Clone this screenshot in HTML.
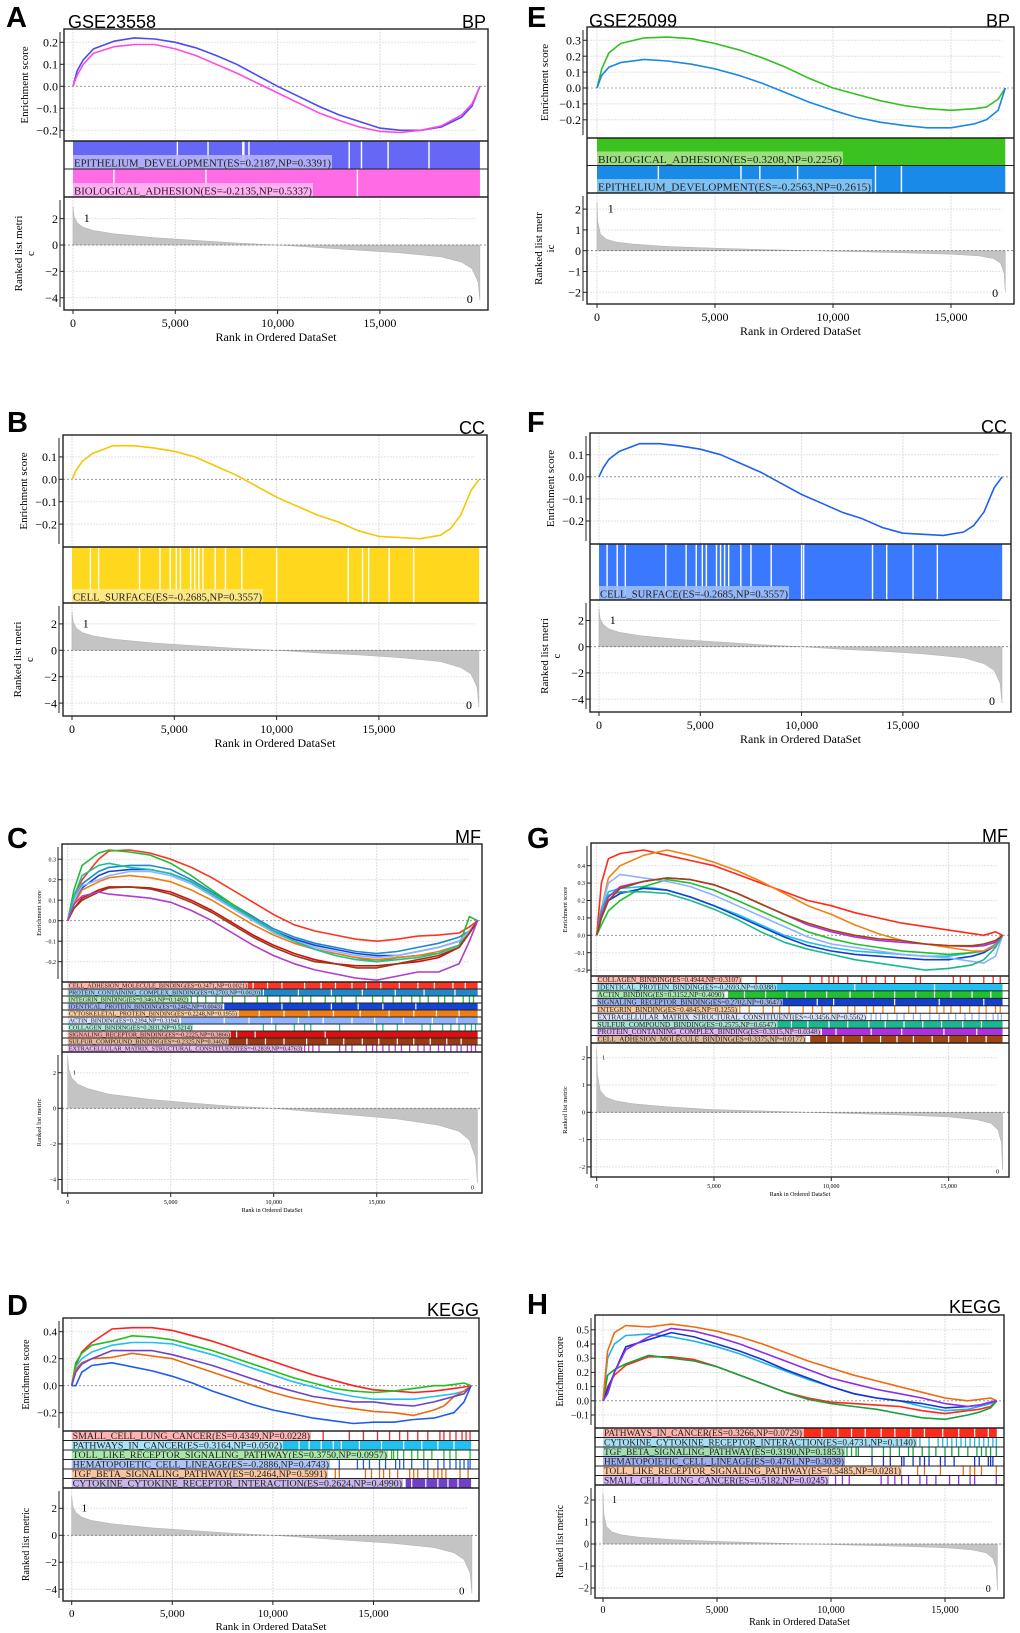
<!DOCTYPE html>
<html><head><meta charset="utf-8"><title>GSEA panels</title>
<style>html,body{margin:0;padding:0;background:#fff}svg{display:block}</style></head>
<body>
<svg id="fig" xmlns="http://www.w3.org/2000/svg" width="1020" height="1633" viewBox="0 0 1020 1633"></svg>
<script>
// ---------------- DATA ----------------
const A_ranks=[0,200,500,1000,2000,3000,4000,5000,6000,7000,8000,9000,10000,11000,12000,13000,14000,15000,16000,17000,18000,19000,19500,19890];
const A_es_epi=[0,0.07,0.12,0.17,0.205,0.22,0.215,0.2,0.175,0.14,0.1,0.05,0.0,-0.045,-0.09,-0.13,-0.16,-0.19,-0.2,-0.2,-0.185,-0.14,-0.09,0];
const A_es_adh=[0,0.05,0.1,0.15,0.18,0.19,0.19,0.17,0.14,0.1,0.06,0.015,-0.03,-0.075,-0.12,-0.155,-0.185,-0.205,-0.21,-0.2,-0.18,-0.13,-0.08,0];
const A_gaps_epi=[5100,6600,8300,8350,8600,13500,14100,15400,17400];
const A_gaps_adh=[2000,6500,13900];
const E_ranks=[0,200,500,1000,2000,3000,4000,5000,6000,7000,8000,9000,10000,11000,12000,13000,14000,15000,16000,16500,17000,17300];
const E_es_adh=[0,0.12,0.22,0.28,0.315,0.32,0.31,0.28,0.24,0.19,0.13,0.06,0.0,-0.04,-0.08,-0.11,-0.13,-0.14,-0.13,-0.12,-0.07,0];
const E_es_epi=[0,0.08,0.13,0.16,0.18,0.17,0.15,0.12,0.08,0.03,-0.03,-0.09,-0.14,-0.185,-0.215,-0.235,-0.25,-0.25,-0.225,-0.2,-0.14,0];
const E_gaps_adh=[];
const E_gaps_epi=[2600,6100,6900,8500,11800,12900];
const B_ranks=[0,200,500,1000,2000,3000,4000,5000,6000,7000,8000,9000,10000,11000,12000,13000,14000,15000,16000,17000,18000,18500,19000,19500,19900];
const B_es=[0,0.04,0.08,0.115,0.15,0.15,0.14,0.125,0.1,0.06,0.02,-0.03,-0.08,-0.12,-0.16,-0.19,-0.23,-0.255,-0.26,-0.265,-0.25,-0.22,-0.16,-0.05,0];
const B_gaps=[900,1300,3300,4300,4800,5100,5300,5800,6000,6200,6400,7000,7500,8300,10000,13500,14200,14500,15500,16700];
const F_es=[0,0.04,0.08,0.115,0.15,0.15,0.14,0.125,0.1,0.06,0.02,-0.03,-0.08,-0.12,-0.16,-0.19,-0.23,-0.255,-0.26,-0.265,-0.25,-0.22,-0.16,-0.05,0];
const F_gaps=[400,900,1300,3300,4300,4800,5100,5300,5800,6000,6200,6400,7000,7500,8500,10000,10100,13500,14200,15500,16700];
const C_ranks=[0,300,700,1500,2000,3000,4000,5000,6000,7000,8000,9000,10000,11000,12000,13000,14000,15000,16000,17000,18000,19000,19500,19900];
const C_es_cam=[0,0.12,0.2,0.3,0.34,0.345,0.33,0.3,0.26,0.21,0.15,0.09,0.03,-0.02,-0.05,-0.07,-0.09,-0.1,-0.09,-0.075,-0.07,-0.06,-0.03,0];
const C_es_pcc=[0,0.1,0.18,0.24,0.26,0.27,0.27,0.25,0.2,0.14,0.08,0.02,-0.04,-0.08,-0.11,-0.13,-0.15,-0.16,-0.15,-0.13,-0.11,-0.08,-0.05,0];
const C_es_int=[0,0.15,0.27,0.33,0.345,0.335,0.32,0.28,0.22,0.15,0.08,0.01,-0.05,-0.1,-0.14,-0.16,-0.18,-0.2,-0.18,-0.17,-0.16,-0.12,0.02,0];
const C_es_idp=[0,0.08,0.16,0.22,0.24,0.25,0.25,0.23,0.19,0.13,0.07,0.01,-0.05,-0.09,-0.12,-0.14,-0.16,-0.17,-0.17,-0.15,-0.13,-0.1,-0.06,0];
const C_es_cyt=[0,0.08,0.15,0.19,0.21,0.22,0.21,0.19,0.15,0.1,0.04,-0.02,-0.07,-0.11,-0.14,-0.16,-0.18,-0.19,-0.18,-0.17,-0.15,-0.12,-0.05,0];
const C_es_act=[0,0.1,0.17,0.2,0.22,0.24,0.24,0.22,0.18,0.12,0.06,0.0,-0.06,-0.1,-0.13,-0.15,-0.17,-0.18,-0.17,-0.15,-0.13,-0.1,-0.05,0];
const C_es_col=[0,0.12,0.22,0.27,0.28,0.26,0.25,0.23,0.19,0.13,0.07,0.01,-0.05,-0.1,-0.14,-0.17,-0.19,-0.2,-0.19,-0.18,-0.16,-0.12,-0.06,0];
const C_es_sig=[0,0.06,0.11,0.15,0.165,0.165,0.16,0.14,0.1,0.05,-0.01,-0.07,-0.12,-0.16,-0.19,-0.21,-0.22,-0.22,-0.21,-0.2,-0.18,-0.13,-0.06,0];
const C_es_sul=[0,0.06,0.1,0.14,0.16,0.165,0.155,0.13,0.09,0.04,-0.02,-0.08,-0.13,-0.17,-0.2,-0.21,-0.23,-0.23,-0.21,-0.19,-0.17,-0.13,-0.06,0];
const C_es_ecm=[0,0.08,0.12,0.14,0.13,0.12,0.11,0.09,0.05,0.0,-0.06,-0.12,-0.17,-0.21,-0.24,-0.26,-0.28,-0.29,-0.27,-0.25,-0.25,-0.21,-0.1,0];
const C_hits_int=[6000,6300,6700,7200,7500,8000,8600,9200,9700,10300,10800,11400,11800,12500,13000,13300,14000,14800,15300,15800,16200,16700,17100,17500,18000,18300,18700,19200,19500,19700];
const C_hits_col=[9500,10100,11000,11500,11800,13200,15000,15300,16000,17200,17600,18200,18600,19000,19300,19600,19800];
const C_hits_ecm=[11300,11500,11700,11900,12200,13200,13500,13800,14500,14800,15000,15300,15600,15900,16200,16600,17000,17300,17600,18000,18300,18600,18900,19100,19400,19600,19800];
const C_gaps_cam=[9000,9700,10400,11500,12300,13000,13800,14500,15200,16100,17000,17800,18700,19300];
const C_gaps_pcc=[9500,11200,12800,14300,15900,17300,18800];
const C_gaps_idp=[10400,12800,14100,15300,16900];
const C_gaps_cyt=[9300,10500,11700,12900,14200,15600,16800,17900,19000];
const C_gaps_act=[7600,8800,9900,11200,12400,13800,14900,16300,17700,18900];
const C_gaps_sig=[8200,9100,12500];
const C_gaps_sul=[8700,9600,10500,11600,12600,13400,14300,15100,16000,16800,17600,18400,19100];
const G_ranks=[0,200,500,1000,2000,3000,4000,5000,6000,7000,8000,9000,10000,11000,12000,13000,14000,15000,16000,16500,17000,17300];
const G_es_col=[0,0.3,0.44,0.47,0.49,0.46,0.43,0.4,0.35,0.3,0.25,0.2,0.17,0.13,0.1,0.07,0.05,0.03,0.01,0.0,0.02,0];
const G_es_idp=[0,0.15,0.25,0.27,0.28,0.26,0.22,0.17,0.12,0.06,0.0,-0.04,-0.07,-0.09,-0.1,-0.11,-0.12,-0.12,-0.1,-0.09,-0.05,0];
const G_es_act=[0,0.06,0.14,0.2,0.28,0.32,0.3,0.26,0.2,0.14,0.08,0.02,-0.02,-0.05,-0.07,-0.09,-0.1,-0.11,-0.1,-0.09,-0.06,0];
const G_es_sig=[0,0.1,0.2,0.24,0.27,0.26,0.22,0.17,0.11,0.05,-0.01,-0.06,-0.09,-0.11,-0.12,-0.13,-0.14,-0.14,-0.12,-0.1,-0.06,0];
const G_es_int=[0,0.15,0.33,0.4,0.46,0.49,0.46,0.42,0.37,0.31,0.24,0.17,0.12,0.06,0.01,-0.03,-0.05,-0.07,-0.09,-0.09,-0.06,0];
const G_es_ecm=[0,0.15,0.3,0.35,0.33,0.31,0.28,0.23,0.17,0.11,0.05,-0.01,-0.05,-0.07,-0.09,-0.11,-0.12,-0.13,-0.15,-0.16,-0.12,0];
const G_es_sul=[0,0.15,0.23,0.25,0.25,0.24,0.2,0.15,0.09,0.02,-0.04,-0.08,-0.11,-0.14,-0.16,-0.18,-0.2,-0.19,-0.17,-0.14,-0.07,0];
const G_es_pcc=[0,0.12,0.22,0.28,0.31,0.33,0.32,0.29,0.24,0.18,0.12,0.06,0.02,-0.01,-0.03,-0.04,-0.05,-0.06,-0.065,-0.06,-0.04,0];
const G_es_cam=[0,0.1,0.2,0.27,0.31,0.33,0.32,0.29,0.24,0.18,0.12,0.07,0.03,0.0,-0.02,-0.03,-0.05,-0.06,-0.06,-0.05,-0.03,0];
const G_hits_col=[6800,7900,9100,9600,9900,10100,10300,10700,11300,11500,11900,12300,12700,13600,13800,15200,15500,15900,16500,16900,17200];
const G_hits_int=[6100,6500,7100,7500,7800,8200,8800,9200,9600,10000,10700,11000,11500,11800,12200,12700,13300,13600,14200,14500,14800,15100,15500,15900,16300,16600,17000,17200];
const G_hits_ecm=[11700,11900,12100,12400,12800,13100,13500,13800,14200,14600,15000,15300,15700,16000,16300,16600,16900,17100,17250];
const G_gaps_idp=[11000,14400];
const G_gaps_act=[6300,7200,8100,8900,9800,10800,11800,12700,13600,14400,15100,16000,16800];
const G_gaps_sig=[9400,10100,12700,14600,16500];
const G_gaps_sul=[8300,9000,9900,10700,11600,12300,13100,13900,14700,15600,16400];
const G_gaps_pcc=[10200,11700,13000,14800,16200];
const G_gaps_cam=[9800,10500,11300,12100,12800,13500,14300,15000,15800,16600];
const D_ranks=[0,200,500,1000,2000,3000,4000,5000,6000,7000,8000,9000,10000,11000,12000,13000,14000,15000,16000,17000,18000,18500,19000,19500,19850];
const D_es_scl=[0,0.15,0.25,0.32,0.42,0.43,0.43,0.41,0.37,0.33,0.28,0.23,0.18,0.13,0.08,0.04,0.0,-0.03,-0.04,-0.05,-0.04,-0.03,-0.02,-0.01,0];
const D_es_pic=[0,0.14,0.2,0.25,0.3,0.32,0.32,0.31,0.27,0.23,0.18,0.13,0.08,0.03,-0.01,-0.05,-0.08,-0.1,-0.1,-0.1,-0.08,-0.07,-0.06,-0.04,0];
const D_es_tlr=[0,0.17,0.24,0.3,0.33,0.37,0.36,0.34,0.3,0.26,0.21,0.16,0.11,0.06,0.02,-0.02,-0.04,-0.05,-0.04,-0.02,0.0,0.0,0.01,0.02,0];
const D_es_hcl=[0,0.0,0.1,0.15,0.17,0.14,0.11,0.07,0.02,-0.04,-0.09,-0.14,-0.18,-0.21,-0.24,-0.26,-0.28,-0.27,-0.27,-0.25,-0.24,-0.22,-0.2,-0.12,0];
const D_es_tgf=[0,0.12,0.17,0.2,0.21,0.24,0.22,0.2,0.15,0.1,0.05,0.0,-0.05,-0.09,-0.12,-0.15,-0.17,-0.19,-0.2,-0.22,-0.18,-0.15,-0.08,-0.04,0];
const D_es_cck=[0,0.1,0.16,0.2,0.26,0.26,0.26,0.23,0.19,0.15,0.1,0.05,0.0,-0.04,-0.08,-0.1,-0.12,-0.12,-0.14,-0.15,-0.12,-0.1,-0.08,-0.06,0];
const D_hits_scl=[12500,13800,14500,15200,15800,16300,16700,17200,17700,18300,18500,18800,19100,19400,19600,19800];
const D_hits_tlr=[15900,16000,16200,16500,16900,17200,17500,17900,18500,18800,19100,19800];
const D_hits_hcl=[13300,14200,14500,14800,15300,15600,16100,16300,16500,16900,17500,17700,18200,18500,18800,19100,19300,19500,19700,19800];
const D_hits_tgf=[13100,13300,14600,14900,15300,15500,15800,16200,16800,17000,17200,17700,18000,18200,18400,18600,19300,19700];
const D_gaps_pic=[11300,11800,12400,13000,13400,14300,15400,16500,17400,18200,19000];
const D_gaps_cck=[16900,17600,18200,18700,19200];
const H_ranks=[0,200,500,1000,2000,3000,4000,5000,6000,7000,8000,9000,10000,11000,12000,13000,14000,15000,16000,16500,17000,17270];
const H_es_pic=[0,0.1,0.18,0.25,0.31,0.31,0.29,0.24,0.18,0.12,0.06,0.02,-0.01,-0.02,-0.03,-0.04,-0.07,-0.09,-0.07,-0.06,-0.04,0];
const H_es_cck=[0,0.3,0.4,0.46,0.47,0.45,0.42,0.38,0.33,0.27,0.21,0.15,0.1,0.05,0.02,0.0,-0.04,-0.07,-0.06,-0.04,-0.02,0];
const H_es_tgf=[0,0.18,0.22,0.26,0.32,0.3,0.28,0.24,0.18,0.12,0.06,0.01,-0.02,-0.04,-0.06,-0.09,-0.12,-0.13,-0.1,-0.08,-0.05,0];
const H_es_hcl=[0,0.08,0.2,0.38,0.43,0.48,0.45,0.4,0.35,0.29,0.22,0.16,0.1,0.05,0.02,0.0,-0.02,-0.05,-0.04,-0.03,-0.01,0];
const H_es_tlr=[0,0.35,0.48,0.53,0.52,0.54,0.52,0.49,0.45,0.4,0.34,0.28,0.23,0.18,0.14,0.1,0.06,0.02,0.0,0.01,0.02,0];
const H_es_scl=[0,0.05,0.2,0.36,0.45,0.51,0.49,0.45,0.4,0.34,0.28,0.22,0.16,0.12,0.08,0.05,0.02,-0.02,-0.04,-0.03,-0.01,0];
const H_hits_cck=[13900,14300,14700,14900,15100,15300,15500,15700,15900,16100,16300,16500,16700,16900,17100,17250];
const H_hits_tgf=[10700,10900,11100,11200,11800,12300,12600,13000,13400,13600,14000,14300,14600,15000,15300,15600,16000,16400,16600,16800,17000,17250];
const H_hits_hcl=[11800,12300,12600,13100,13200,13600,13900,14100,14300,14800,15000,15400,16300,16500,16900,17000,17100];
const H_hits_tlr=[13800,14100,14800,15800,16100,16300,16600,17250];
const H_hits_scl=[10200,10500,10800,12200,12500,12800,13100,13400,13900,14200,14600,15200,15600,16100,16300,17250];
const H_gaps_pic=[9600,10300,10900,11500,12200,12800,13500,14100,14900,15600,16300,16900];
// ranked list metric samples
const R20_ranks=[0,50,200,500,1000,2000,4000,6000,8000,10000,12000,14000,16000,18000,19000,19500,19800,19890];
const A_metric=[2.9,2.2,1.7,1.35,1.1,0.85,0.55,0.35,0.15,0,-0.2,-0.4,-0.6,-0.9,-1.3,-1.8,-2.8,-4.2];
const B_metric=[2.9,2.2,1.7,1.35,1.1,0.85,0.55,0.35,0.15,0,-0.2,-0.35,-0.55,-0.85,-1.3,-1.8,-2.8,-4.3];
const C_metric=[2.9,2.2,1.7,1.35,1.1,0.8,0.5,0.3,0.12,0,-0.2,-0.4,-0.6,-0.95,-1.3,-1.8,-2.8,-4.2];
const D_metric=[2.9,2.2,1.7,1.35,1.1,0.85,0.55,0.35,0.15,0,-0.2,-0.4,-0.6,-0.9,-1.3,-1.8,-2.8,-4.3];
const R17_ranks=[0,30,150,400,800,1500,3000,5000,7000,9000,11000,13000,15000,16200,16800,17100,17250,17300];
const E_metric=[2.3,1.4,0.8,0.55,0.42,0.32,0.2,0.12,0.06,0,-0.05,-0.1,-0.17,-0.25,-0.38,-0.6,-1.1,-2.0];
const G_metric=[2.3,1.4,0.8,0.55,0.42,0.32,0.2,0.1,0.05,0,-0.05,-0.1,-0.17,-0.27,-0.4,-0.65,-1.1,-2.1];
const H_metric=[2.3,1.4,0.8,0.55,0.42,0.32,0.2,0.12,0.06,0,-0.05,-0.1,-0.17,-0.27,-0.4,-0.65,-1.1,-2.1];
const X_ticks=[0,5000,10000,15000];

// ---------------- LAYOUT ----------------
const panels=[
 {id:'a',letter:'A',lx:6,ly:27,title:'GSE23558',tx:68,ty:28,cat:'BP',cx:486,cy:28,L:64,R:488,T:29,esB:141,rowsB:197,B:310,x0:73,xs:102.3/5000,xmax:19890,e0:86.3,es:220,esTicks:[0.2,0.1,0,-0.1,-0.2],esDec:1,r0:245,rs:13.2,rTicks:[2,0,-2,-4],fs:12,ylx:36,rlab:['Ranked list metri','c'],lfs:11,lblH:14,
  ranks:A_ranks,series:[{v:A_es_epi,c:'#4b4bf0'},{v:A_es_adh,c:'#ff4ae0'}],
  rows:[{fill:[0,19890],gaps:A_gaps_epi,c:'#6767f5',bg:'#b4b4fa',lab:'EPITHELIUM_DEVELOPMENT(ES=0.2187,NP=0.3391)',le:332},
        {fill:[0,19890],gaps:A_gaps_adh,c:'#ff6be4',bg:'#ffb6f2',lab:'BIOLOGICAL_ADHESION(ES=-0.2135,NP=0.5337)',le:313}],
  mranks:R20_ranks,metric:A_metric},
 {id:'e',letter:'E',lx:527,ly:27,title:'GSE25099',tx:589,ty:27,cat:'BP',cx:1010,cy:27,L:587,R:1014,T:27,esB:138,rowsB:193,B:304,x0:597,xs:118/5000,xmax:17300,e0:88,es:159,esTicks:[0.3,0.2,0.1,0,-0.1,-0.2],esDec:1,r0:250.7,rs:20.8,rTicks:[2,1,0,-1,-2],fs:12,ylx:39,rlab:['Ranked list metr','ic'],lfs:11,lblH:14,
  ranks:E_ranks,series:[{v:E_es_adh,c:'#33c020'},{v:E_es_epi,c:'#1a86e6'}],
  rows:[{fill:[0,17300],gaps:E_gaps_adh,c:'#3cc21e',bg:'#a6e28c',lab:'BIOLOGICAL_ADHESION(ES=0.3208,NP=0.2256)',le:843},
        {fill:[0,17300],gaps:E_gaps_epi,c:'#1a8ae8',bg:'#8cc6f4',lab:'EPITHELIUM_DEVELOPMENT(ES=-0.2563,NP=0.2615)',le:872}],
  mranks:R17_ranks,metric:E_metric},
 {id:'b',letter:'B',lx:7,ly:432,title:'',cat:'CC',cx:485,cy:434,L:63,R:487,T:435,esB:547,rowsB:603,B:716,x0:72,xs:102.3/5000,xmax:19900,e0:479.3,es:224,esTicks:[0.1,0,-0.1,-0.2],esDec:1,r0:650.3,rs:13.2,rTicks:[2,0,-2,-4],fs:12,ylx:36,rlab:['Ranked list metri','c'],lfs:11,lblH:14,
  ranks:B_ranks,series:[{v:B_es,c:'#f7c600'}],
  rows:[{fill:[0,19900],gaps:B_gaps,c:'#ffd71c',bg:'#fde98c',lab:'CELL_SURFACE(ES=-0.2685,NP=0.3557)',le:263}],
  mranks:R20_ranks,metric:B_metric},
 {id:'f',letter:'F',lx:527,ly:432,title:'',cat:'CC',cx:1007,cy:433,L:590,R:1011,T:433,esB:544,rowsB:600,B:712,x0:599,xs:101.3/5000,xmax:19900,e0:476.8,es:221,esTicks:[0.1,0,-0.1,-0.2],esDec:1,r0:646.7,rs:13.1,rTicks:[2,0,-2,-4],fs:12,ylx:36,rlab:['Ranked list metri','c'],lfs:11,lblH:14,
  ranks:B_ranks,series:[{v:F_es,c:'#1f60f0'}],
  rows:[{fill:[0,19900],gaps:F_gaps,c:'#3a78ff',bg:'#9cbcfa',lab:'CELL_SURFACE(ES=-0.2685,NP=0.3557)',le:789}],
  mranks:R20_ranks,metric:B_metric},
 {id:'c',letter:'C',lx:7,ly:848,title:'',cat:'MF',cx:481,cy:843,L:62,R:482,T:844,esB:982,rowsB:1052,B:1193,x0:67.7,xs:103/5000,xmax:19900,e0:920.7,es:205,esTicks:[0.3,0.2,0.1,0,-0.1,-0.2],esDec:1,r0:1108.3,rs:17.8,rTicks:[2,0,-2,-4],fs:6,ylx:21,rlab:['Ranked list metric'],lfs:6.5,
  ranks:C_ranks,series:[{v:C_es_cam,c:'#ff3322'},{v:C_es_pcc,c:'#1e88cc'},{v:C_es_int,c:'#22bb33'},{v:C_es_idp,c:'#1444d4'},{v:C_es_cyt,c:'#f07d12'},{v:C_es_act,c:'#8fb4ff'},{v:C_es_col,c:'#1cc29c'},{v:C_es_sig,c:'#d01010'},{v:C_es_sul,c:'#9a3a12'},{v:C_es_ecm,c:'#b23ccc'}],
  rows:[{fill:[8700,19900],gaps:C_gaps_cam,c:'#ff3322',bg:'#ffaaa0',lab:'CELL_ADHESION_MOLECULE_BINDING(ES=0.3471,NP=0.0021)',le:248},
        {fill:[9300,19900],gaps:C_gaps_pcc,c:'#1e88cc',bg:'#8cc8ee',lab:'PROTEIN_CONTAINING_COMPLEX_BINDING(ES=0.2703,NP=0.0020)',le:261},
        {hits:C_hits_int,c:'#22bb33',bg:'#a6e6aa',lab:'INTEGRIN_BINDING(ES=0.3463,NP=0.1492)',le:189},
        {fill:[7600,19900],gaps:C_gaps_idp,c:'#1444d4',bg:'#96acf0',lab:'IDENTICAL_PROTEIN_BINDING(ES=0.2482,NP=0.0043)',le:223},
        {fill:[8300,19900],gaps:C_gaps_cyt,c:'#f07d12',bg:'#f8c490',lab:'CYTOSKELETAL_PROTEIN_BINDING(ES=0.2248,NP=0.1955)',le:238},
        {fill:[5500,19900],gaps:C_gaps_act,c:'#8fb4ff',bg:'#cddcff',lab:'ACTIN_BINDING(ES=0.2394,NP=0.3194)',le:180},
        {hits:C_hits_col,c:'#1cc29c',bg:'#9ee6d2',lab:'COLLAGEN_BINDING(ES=0.2831,NP=0.5214)',le:193},
        {fill:[7900,19900],gaps:C_gaps_sig,c:'#d81010',bg:'#f09a9a',lab:'SIGNALING_RECEPTOR_BINDING(ES=-0.2225,NP=0.3866)',le:231},
        {fill:[7800,19900],gaps:C_gaps_sul,c:'#9a3a12',bg:'#e0b090',lab:'SULFUR_COMPOUND_BINDING(ES=-0.2325,NP=0.3402)',le:228},
        {hits:C_hits_ecm,c:'#b23ccc',bg:'#e4b0ee',lab:'EXTRACELLULAR_MATRIX_STRUCTURAL_CONSTITUENT(ES=-0.2839,NP=0.4763)',le:303}],
  mranks:R20_ranks,metric:C_metric},
 {id:'g',letter:'G',lx:527,ly:848,title:'',cat:'MF',cx:1008,cy:842,L:591,R:1009,T:843,esB:976,rowsB:1043,B:1177,x0:596.7,xs:117.3/5000,xmax:17300,e0:935.3,es:174,esTicks:[0.4,0.3,0.2,0.1,0,-0.1,-0.2],esDec:1,r0:1112.3,rs:27.3,rTicks:[2,1,0,-1,-2],fs:6,ylx:24,rlab:['Ranked list metric'],lfs:6.5,
  ranks:G_ranks,series:[{v:G_es_col,c:'#ff2a1a'},{v:G_es_idp,c:'#22c0ee'},{v:G_es_act,c:'#20c030'},{v:G_es_sig,c:'#1040d0'},{v:G_es_int,c:'#f58010'},{v:G_es_ecm,c:'#8fb0ff'},{v:G_es_sul,c:'#18b890'},{v:G_es_pcc,c:'#b030e0'},{v:G_es_cam,c:'#a04510'}],
  rows:[{hits:G_hits_col,c:'#ff2a1a',bg:'#ffb0a6',lab:'COLLAGEN_BINDING(ES=0.4944,NP=0.3107)',le:742},
        {fill:[6900,17300],gaps:G_gaps_idp,c:'#22c0ee',bg:'#9ce2f6',lab:'IDENTICAL_PROTEIN_BINDING(ES=-0.2693,NP=0.0388)',le:777},
        {fill:[5600,17300],gaps:G_gaps_act,c:'#20c030',bg:'#9ee6a6',lab:'ACTIN_BINDING(ES=0.3152,NP=0.4090)',le:725},
        {fill:[7800,17300],gaps:G_gaps_sig,c:'#1040d0',bg:'#8ea8ee',lab:'SIGNALING_RECEPTOR_BINDING(ES=0.2702,NP=0.3647)',le:783},
        {hits:G_hits_int,c:'#f58010',bg:'#fac494',lab:'INTEGRIN_BINDING(ES=0.4845,NP=0.1255)',le:738},
        {hits:G_hits_ecm,c:'#8fb0ff',bg:'#d4e0ff',lab:'EXTRACELLULAR_MATRIX_STRUCTURAL_CONSTITUENT(ES=-0.3456,NP=0.5562)',le:867},
        {fill:[7700,17300],gaps:G_gaps_sul,c:'#18b890',bg:'#98e0cc',lab:'SULFUR_COMPOUND_BINDING(ES=0.2575,NP=0.6547)',le:777},
        {fill:[9600,17300],gaps:G_gaps_pcc,c:'#b030e0',bg:'#e0a8f4',lab:'PROTEIN_CONTAINING_COMPLEX_BINDING(ES=0.3315,NP=0.0348)',le:821},
        {fill:[9100,17300],gaps:G_gaps_cam,c:'#a04510',bg:'#dcb08c',lab:'CELL_ADHESION_MOLECULE_BINDING(ES=0.3375,NP=0.0177)',le:806}],
  mranks:R17_ranks,metric:G_metric},
 {id:'d',letter:'D',lx:7,ly:1315,title:'',cat:'KEGG',cx:479,cy:1316,L:63,R:479,T:1318,esB:1431,rowsB:1488,B:1601,x0:71.7,xs:100.6/5000,xmax:19850,e0:1385.7,es:135,esTicks:[0.4,0.2,0,-0.2],esDec:1,r0:1535.3,rs:13.5,rTicks:[2,0,-2,-4],fs:11,ylx:34,rlab:['Ranked list metric'],lfs:10,
  ranks:D_ranks,series:[{v:D_es_scl,c:'#ff2020'},{v:D_es_pic,c:'#20c0f0'},{v:D_es_tlr,c:'#20c020'},{v:D_es_hcl,c:'#1e5cf0'},{v:D_es_tgf,c:'#e86a10'},{v:D_es_cck,c:'#7040c8'}],
  rows:[{hits:D_hits_scl,c:'#ff2020',bg:'#ffaaaa',lab:'SMALL_CELL_LUNG_CANCER(ES=0.4349,NP=0.0228)',le:311},
        {fill:[10500,19850],gaps:D_gaps_pic,c:'#20c0f0',bg:'#9ce2f8',lab:'PATHWAYS_IN_CANCER(ES=0.3164,NP=0.0502)',le:283},
        {hits:D_hits_tlr,c:'#20c020',bg:'#a0e4a0',lab:'TOLL_LIKE_RECEPTOR_SIGNALING_PATHWAY(ES=0.3750,NP=0.0957)',le:388},
        {hits:D_hits_hcl,c:'#1e5cf0',bg:'#a4bcf8',lab:'HEMATOPOIETIC_CELL_LINEAGE(ES=-0.2886,NP=0.4743)',le:330},
        {hits:D_hits_tgf,c:'#e86a10',bg:'#f6be92',lab:'TGF_BETA_SIGNALING_PATHWAY(ES=0.2464,NP=0.5991)',le:328},
        {fill:[16600,19850],gaps:D_gaps_cck,c:'#7040c8',bg:'#c0aeea',lab:'CYTOKINE_CYTOKINE_RECEPTOR_INTERACTION(ES=0.2624,NP=0.4990)',le:403}],
  mranks:R20_ranks,metric:D_metric},
 {id:'h',letter:'H',lx:527,ly:1314,title:'',cat:'KEGG',cx:1001,cy:1313,L:595,R:1004,T:1315,esB:1428,rowsB:1485,B:1598,x0:603,xs:114/5000,xmax:17270,e0:1400.8,es:142,esTicks:[0.5,0.4,0.3,0.2,0.1,0,-0.1],esDec:1,r0:1544,rs:22,rTicks:[2,1,0,-1,-2],fs:10,ylx:32,rlab:['Ranked list metric'],lfs:10,
  ranks:H_ranks,series:[{v:H_es_pic,c:'#ff2a1a'},{v:H_es_cck,c:'#20b4e8'},{v:H_es_tgf,c:'#18a040'},{v:H_es_hcl,c:'#1834d0'},{v:H_es_tlr,c:'#f06a10'},{v:H_es_scl,c:'#8a2ef0'}],
  rows:[{fill:[8800,17270],gaps:H_gaps_pic,c:'#ff2a1a',bg:'#ffaaa2',lab:'PATHWAYS_IN_CANCER(ES=0.3266,NP=0.0729)',le:803},
        {hits:H_hits_cck,c:'#20b4e8',bg:'#9cdcf4',lab:'CYTOKINE_CYTOKINE_RECEPTOR_INTERACTION(ES=0.4731,NP=0.1140)',le:917},
        {hits:H_hits_tgf,c:'#18a040',bg:'#98d8a8',lab:'TGF_BETA_SIGNALING_PATHWAY(ES=0.3190,NP=0.1853)',le:845},
        {hits:H_hits_hcl,c:'#1834d0',bg:'#96a6ee',lab:'HEMATOPOIETIC_CELL_LINEAGE(ES=0.4761,NP=0.3039)',le:845},
        {hits:H_hits_tlr,c:'#f06a10',bg:'#f8c098',lab:'TOLL_LIKE_RECEPTOR_SIGNALING_PATHWAY(ES=0.5485,NP=0.0281)',le:902},
        {hits:H_hits_scl,c:'#8a2ef0',bg:'#cfaef8',lab:'SMALL_CELL_LUNG_CANCER(ES=0.5182,NP=0.0245)',le:829}],
  mranks:R17_ranks,metric:H_metric}
];

// ---------------- RENDER ----------------
const NS='http://www.w3.org/2000/svg';
const svg=document.getElementById('fig');
function mk(tag,attrs,parent,text){const e=document.createElementNS(NS,tag);for(const k in attrs)e.setAttribute(k,attrs[k]);if(text!==undefined)e.textContent=text;parent.appendChild(e);return e;}
const SERIF='"Liberation Serif", serif', SANS='"Liberation Sans", sans-serif';
function fmtK(v){return v.toLocaleString('en-US');}
function fmtY(v,d){const s=Math.abs(v).toFixed(d);return v<0?'\u2212'+s:s;}

panels.forEach(p=>{
  const g=mk('g',{},svg);
  
  
  const X=r=>p.x0+r*p.xs, YE=v=>p.e0-v*p.es, YR=v=>p.r0-v*p.rs;
  // headings
  const t1=mk('text',{x:p.lx,y:p.ly,'font-family':SANS,'font-weight':'bold','font-size':29},g,p.letter);
   
  if(p.title){const t=mk('text',{x:p.tx,y:p.ty,'font-family':SANS,'font-size':18},g,p.title);}
  const t2=mk('text',{x:p.cx,y:p.cy,'font-family':SANS,'font-size':18,'text-anchor':'end'},g,p.cat);
   
  // grid
  X_ticks.forEach(r=>{[[p.T,p.esB],[p.rowsB,p.B]].forEach(([a,b])=>mk('line',{x1:X(r),x2:X(r),y1:a,y2:b,stroke:'#dcdcdc','stroke-width':1,'stroke-dasharray':'2,1'},g));});
  p.esTicks.forEach(v=>{if(v!==0)mk('line',{x1:p.L,x2:p.R-12,y1:YE(v),y2:YE(v),stroke:'#e2e2e2','stroke-dasharray':'2,1'},g);});
  p.rTicks.forEach(v=>{if(v!==0)mk('line',{x1:p.L,x2:p.R-12,y1:YR(v),y2:YR(v),stroke:'#e2e2e2','stroke-dasharray':'2,1'},g);});
  mk('line',{x1:p.L,x2:p.R,y1:YE(0),y2:YE(0),stroke:'#888','stroke-width':0.8,'stroke-dasharray':'2,2'},g);
  // ES lines
  p.series.forEach((s,i)=>{
    const pts=p.ranks.map((r,j)=>X(r).toFixed(1)+','+YE(s.v[j]).toFixed(1)).join(' ');
    const pl=mk('polyline',{points:pts,fill:'none',stroke:s.c,'stroke-width':1.6,'stroke-linejoin':'round'},g);
    
    
  });
  // gene rows
  const n=p.rows.length, rh=(p.rowsB-p.esB)/n;
  p.rows.forEach((row,i)=>{
    const top=p.esB+i*rh;
    const rg=mk('g',{},g);
    
    
    if(row.fill){
      mk('rect',{x:X(row.fill[0]),y:top,width:X(row.fill[1])-X(row.fill[0]),height:rh,fill:row.c},rg);
      row.gaps.forEach(r=>mk('line',{x1:X(r),x2:X(r),y1:top,y2:top+rh,stroke:'#fff','stroke-width':n>2?1.2:1.4},rg));
    } else {
      row.hits.forEach(r=>mk('line',{x1:X(r),x2:X(r),y1:top,y2:top+rh,stroke:row.c,'stroke-width':1.3},rg));
    }
    const lh=p.lblH?Math.min(p.lblH,rh):rh;
    const lx=p.rows.length>2?X(0):X(0);
    mk('rect',{x:lx,y:top+rh-lh,width:row.le-lx,height:lh,fill:row.bg,opacity:0.9},rg);
    const lt=mk('text',{x:lx+1,y:top+rh-lh*0.18,'font-family':SERIF,'font-size':p.lblH?p.lfs:rh*0.95,textLength:row.le-lx-2,lengthAdjust:'spacingAndGlyphs',fill:'#222'},rg,row.lab);
    
    
    if(i>0)mk('line',{x1:p.L,x2:p.R,y1:top,y2:top,stroke:'#222','stroke-width':1},g);
  });
  // ranked metric area
  const pts=[X(p.mranks[0]).toFixed(1)+','+YR(0)];
  p.mranks.forEach((r,j)=>pts.push(X(r).toFixed(1)+','+YR(p.metric[j]).toFixed(1)));
  pts.push(X(p.mranks[p.mranks.length-1]).toFixed(1)+','+YR(0));
  const area=mk('polygon',{points:pts.join(' '),fill:'#c4c4c4',stroke:'#b0b0b0','stroke-width':0.5},g);
  
  
  mk('line',{x1:p.L,x2:p.R,y1:YR(0),y2:YR(0),stroke:'#777','stroke-width':0.8,'stroke-dasharray':'2,2'},g);
  mk('text',{x:X(0)+p.fs*0.9,y:YR(p.rTicks[0])+p.fs*0.3,'font-family':SERIF,'font-size':p.fs},g,'1');
  mk('text',{x:X(p.xmax)-p.fs*0.6,y:p.B-p.fs*0.6,'font-family':SERIF,'font-size':p.fs,'text-anchor':'end'},g,'0');
  // frames
  mk('rect',{x:p.L,y:p.T,width:p.R-p.L,height:p.B-p.T,fill:'none',stroke:'#222','stroke-width':1.4},g);
  mk('line',{x1:p.L,x2:p.R,y1:p.esB,y2:p.esB,stroke:'#222','stroke-width':1.4},g);
  mk('line',{x1:p.L,x2:p.R,y1:p.rowsB,y2:p.rowsB,stroke:'#222','stroke-width':1.4},g);
  // y ticks
  p.esTicks.forEach(v=>{mk('line',{x1:p.L-4,x2:p.L,y1:YE(v),y2:YE(v),stroke:'#222'},g);
    const t=mk('text',{x:p.L-6,y:YE(v)+p.fs*0.35,'font-family':SERIF,'font-size':p.fs,'text-anchor':'end'},g,fmtY(v,p.esDec));
     });
  p.rTicks.forEach(v=>{mk('line',{x1:p.L-4,x2:p.L,y1:YR(v),y2:YR(v),stroke:'#222'},g);
    const t=mk('text',{x:p.L-6,y:YR(v)+p.fs*0.35,'font-family':SERIF,'font-size':p.fs,'text-anchor':'end'},g,fmtY(v,0));
     });
  mk('line',{x1:p.L-4,x2:p.L-4,y1:p.T+3,y2:p.esB-3,stroke:'#222','stroke-width':1},g);
  mk('line',{x1:p.L-4,x2:p.L-4,y1:p.rowsB+3,y2:p.B-3,stroke:'#222','stroke-width':1},g);
  // x ticks
  X_ticks.forEach(r=>{mk('line',{x1:X(r),x2:X(r),y1:p.B,y2:p.B+4,stroke:'#222'},g);
    const t=mk('text',{x:X(r),y:p.B+p.fs+5,'font-family':SERIF,'font-size':p.fs,'text-anchor':'middle'},g,fmtK(r));
     });
  const xl=mk('text',{x:(p.L+p.R)/2,y:p.B+2*p.fs+7,'font-family':SERIF,'font-size':p.fs,'text-anchor':'middle'},g,'Rank in Ordered DataSet');
   
  // y titles
  const ym=(p.T+p.esB)/2, yx=p.L-p.ylx;
  const yl=mk('text',{x:yx,y:ym,'font-family':SERIF,'font-size':p.lfs,'text-anchor':'middle',transform:`rotate(-90 ${yx} ${ym})`},g,'Enrichment score');
   
  const rm=(p.rowsB+p.B)/2;
  p.rlab.forEach((s,k)=>{const xx=yx-(p.rlab.length-1)*6+k*12;
    const t=mk('text',{x:xx,y:rm,'font-family':SERIF,'font-size':p.lfs,'text-anchor':'middle',transform:`rotate(-90 ${xx} ${rm})`},g,s);
     });
});
</script>
</body></html>
